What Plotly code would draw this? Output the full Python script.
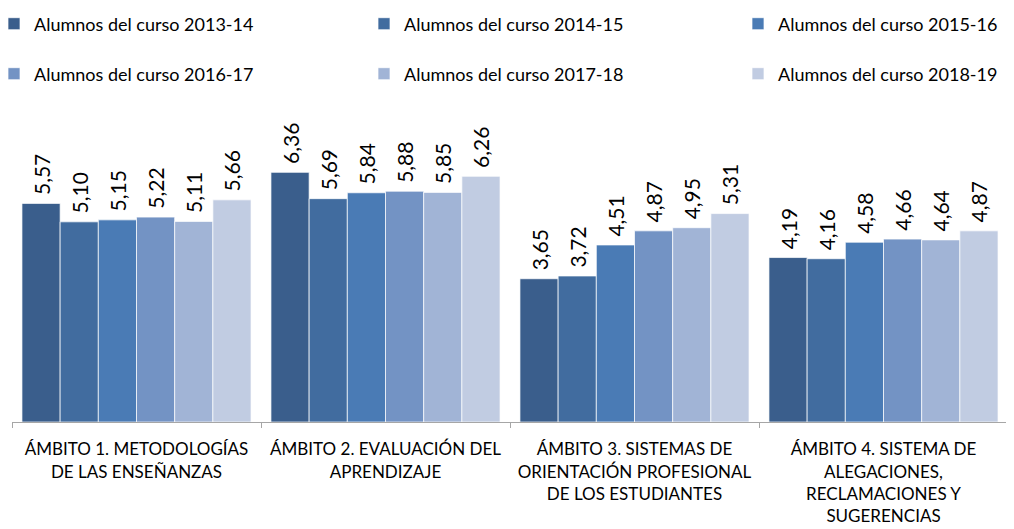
import plotly.graph_objects as go

categories = [
    "ÁMBITO 1. METODOLOGÍAS<br>DE LAS ENSEÑANZAS",
    "ÁMBITO 2. EVALUACIÓN DEL<br>APRENDIZAJE",
    "ÁMBITO 3. SISTEMAS DE<br>ORIENTACIÓN PROFESIONAL<br>DE LOS ESTUDIANTES",
    "ÁMBITO 4. SISTEMA DE<br>ALEGACIONES,<br>RECLAMACIONES Y<br>SUGERENCIAS",
]
series_names = [
    "Alumnos del curso 2013-14",
    "Alumnos del curso 2014-15",
    "Alumnos del curso 2015-16",
    "Alumnos del curso 2016-17",
    "Alumnos del curso 2017-18",
    "Alumnos del curso 2018-19",
]
curso_2013_14 = [5.57, 6.36, 3.65, 4.19]
curso_2014_15 = [5.10, 5.69, 3.72, 4.16]
curso_2015_16 = [5.15, 5.84, 4.51, 4.58]
curso_2016_17 = [5.22, 5.88, 4.87, 4.66]
curso_2017_18 = [5.11, 5.85, 4.95, 4.64]
curso_2018_19 = [5.66, 6.26, 5.31, 4.87]
series_values = [curso_2013_14, curso_2014_15, curso_2015_16,
                 curso_2016_17, curso_2017_18, curso_2018_19]
colors = ["#3A5E8C", "#416C9F", "#4A7BB5", "#7393C4", "#A1B4D6", "#C1CCE2"]

FONT = "Lato"
OFF = 8                      # page body margin of the HTML page
W, H = 1014 - OFF, 529 - OFF
ML, MR, MT, MB = 12 - OFF, 6, 108 - OFF, 107
PW = W - ML - MR

# legend placement (screen pixels): text-start x, row centre y
legend_pos = [(34, 24), (404, 24), (778, 24), (34, 74), (404, 74), (778, 74)]
legend_ids = ["legend", "legend2", "legend3", "legend4", "legend5", "legend6"]

fig = go.Figure()
for name, vals, col, lid in zip(series_names, series_values, colors, legend_ids):
    fig.add_trace(go.Bar(
        name=name, x=categories, y=vals,
        marker=dict(color=col, line=dict(color="rgba(255,255,255,0.7)", width=1)),
        texttemplate="\u00a0%{y:.2f}", textposition="outside", textangle=-90,
        textfont=dict(family=FONT, size=21, color="#000000"),
        constraintext="none",
        cliponaxis=False,
        legend=lid,
    ))

legends = {}
for lid, (tx, cy) in zip(legend_ids, legend_pos):
    legends[lid] = dict(
        orientation="h", xref="paper", yref="container",
        xanchor="left", yanchor="middle",
        x=(tx - OFF - 40 - ML) / PW, y=1 - (cy - OFF) / H,
        font=dict(family=FONT, size=18, color="#000000"),
        bgcolor="rgba(0,0,0,0)",
    )

fig.update_layout(
    width=W, height=H,
    margin=dict(l=ML, r=MR, t=MT, b=MB, autoexpand=False),
    paper_bgcolor="white", plot_bgcolor="white",
    separators=",.",
    barmode="group", bargap=0.08, bargroupgap=0,
    showlegend=True,
    font=dict(family=FONT),
    xaxis=dict(
        showline=True, linecolor="#A6A6A6", linewidth=1,
        ticks="outside", ticklen=5, tickcolor="#A6A6A6", tickson="boundaries",
        tickfont=dict(family=FONT, size=17, color="#000000"),
        ticklabelstandoff=12,
        showgrid=False, automargin=False,
    ),
    yaxis=dict(range=[0, 8], visible=False, showgrid=False, zeroline=False,
               automargin=False),
    **legends,
)

fig.write_html("out.html")
